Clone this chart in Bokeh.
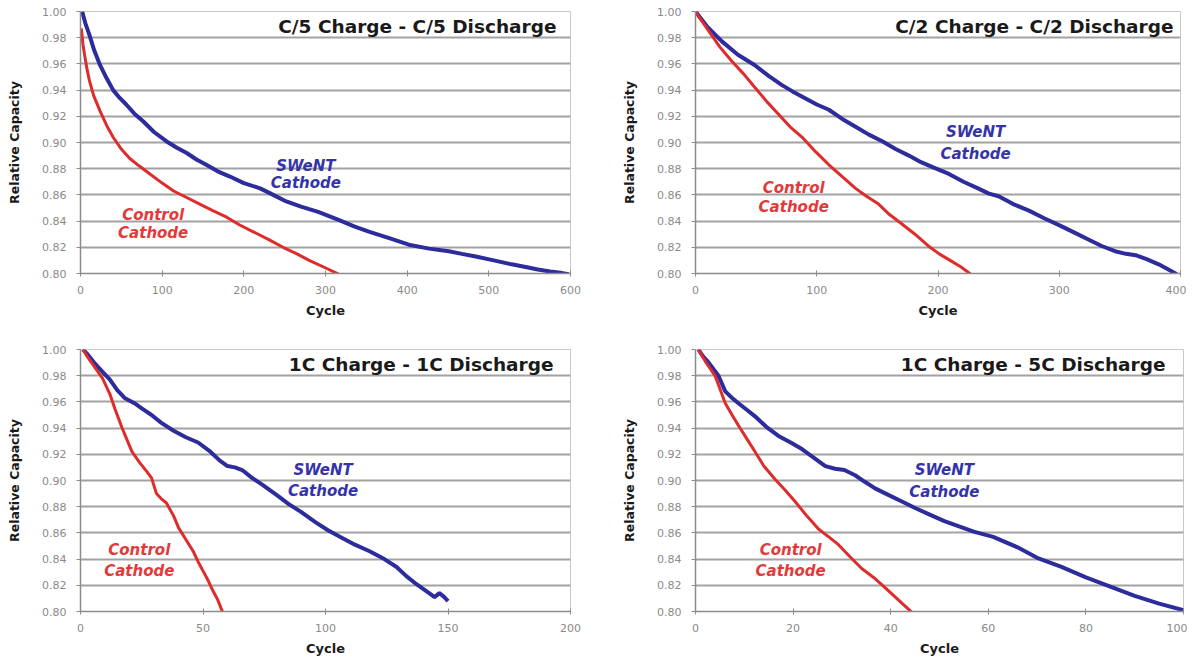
from bokeh.plotting import figure
from bokeh.layouts import column, row
from bokeh.models import Range1d, FixedTicker, PrintfTickFormatter, Label
from bokeh.embed import file_html
from bokeh.resources import INLINE

# ---------------- data ----------------
y_ticks = [0.80, 0.82, 0.84, 0.86, 0.88, 0.90, 0.92, 0.94, 0.96, 0.98, 1.00]
grid_levels = [0.82, 0.84, 0.86, 0.88, 0.90, 0.92, 0.94, 0.96, 0.98]

titles = ["C/5 Charge - C/5 Discharge", "C/2 Charge - C/2 Discharge",
          "1C Charge - 1C Discharge", "1C Charge - 5C Discharge"]

x_ticks_c5 = [0, 100, 200, 300, 400, 500, 600]
x_ticks_c2 = [0, 100, 200, 300, 400]
x_ticks_1c = [0, 50, 100, 150, 200]
x_ticks_5c = [0, 20, 40, 60, 80, 100]

# C/5 charge - C/5 discharge
c5_swent_cycle = [2, 6, 11, 17, 24, 32, 40, 48, 56, 66, 77, 90, 105, 118, 130, 142, 154, 168, 183,
                  200, 220, 236, 252, 270, 291, 316, 335, 353, 378, 402, 427, 451, 467, 484, 506,
                  528, 545, 560, 575, 590, 598]
c5_swent_cap = [1.000, 0.991, 0.982, 0.970, 0.959, 0.949, 0.940, 0.934, 0.929, 0.922, 0.916, 0.908,
                0.901, 0.896, 0.892, 0.887, 0.883, 0.878, 0.874, 0.869, 0.865, 0.860, 0.855, 0.851,
                0.847, 0.841, 0.836, 0.832, 0.827, 0.822, 0.819, 0.817, 0.815, 0.813, 0.810, 0.807,
                0.805, 0.803, 0.8015, 0.8003, 0.7995]
c5_control_cycle = [1, 3, 5, 8, 11, 16, 24, 32, 40, 50, 60, 72, 85, 100, 114, 130, 146, 162, 179,
                    195, 211, 230, 248, 265, 280, 301, 316]
c5_control_cap = [0.987, 0.975, 0.967, 0.956, 0.947, 0.936, 0.924, 0.913, 0.904, 0.895, 0.888,
                  0.882, 0.876, 0.869, 0.863, 0.858, 0.853, 0.848, 0.843, 0.837, 0.832, 0.826,
                  0.820, 0.815, 0.810, 0.804, 0.7995]

# C/2 charge - C/2 discharge
c2_swent_cycle = [0, 10, 22, 35, 49, 60, 71, 80, 90, 100, 110, 121, 132, 143, 154, 165, 176, 186,
                  196, 209, 221, 233, 242, 250, 262, 275, 288, 302, 313, 324, 335, 346, 355, 363,
                  372, 382, 390, 397]
c2_swent_cap = [1.000, 0.988, 0.977, 0.967, 0.959, 0.951, 0.944, 0.939, 0.934, 0.929, 0.925, 0.918,
                0.912, 0.906, 0.901, 0.895, 0.890, 0.885, 0.881, 0.876, 0.870, 0.865, 0.861, 0.859,
                0.853, 0.848, 0.842, 0.836, 0.831, 0.826, 0.821, 0.817, 0.815, 0.814, 0.811, 0.807,
                0.803, 0.7995]
c2_control_cycle = [0, 5, 11, 20, 30, 40, 49, 59, 69, 78, 88, 99, 110, 121, 132, 141, 151, 160, 170,
                    181, 192, 201, 210, 219, 227]
c2_control_cap = [1.000, 0.993, 0.985, 0.973, 0.962, 0.952, 0.942, 0.931, 0.921, 0.912, 0.904,
                  0.893, 0.883, 0.874, 0.865, 0.859, 0.853, 0.845, 0.838, 0.830, 0.821, 0.815,
                  0.810, 0.805, 0.7995]

# 1C charge - 1C discharge
c1_swent_cycle = [1, 3, 6, 9, 12, 15, 18, 22, 25, 29, 33, 38, 43, 48, 53, 57, 60, 63, 66, 70, 74,
                  80, 85, 90, 96, 101, 107, 112, 118, 124, 129, 133, 137, 140, 143, 144.5, 146.5,
                  148.5, 150]
c1_swent_cap = [1.000, 0.996, 0.989, 0.983, 0.977, 0.969, 0.963, 0.959, 0.955, 0.950, 0.944, 0.938,
                0.933, 0.929, 0.922, 0.915, 0.911, 0.910, 0.908, 0.902, 0.897, 0.889, 0.882, 0.876,
                0.868, 0.862, 0.856, 0.851, 0.846, 0.840, 0.834, 0.827, 0.821, 0.817, 0.813, 0.811,
                0.814, 0.811, 0.808]
c1_control_cycle = [1, 3, 6, 9, 12, 14, 17, 19, 21, 24, 27, 29, 31, 33, 35, 38, 40, 43, 46, 48, 50,
                    52, 54, 56, 58]
c1_control_cap = [1.000, 0.994, 0.986, 0.978, 0.966, 0.955, 0.940, 0.931, 0.922, 0.914, 0.907,
                  0.902, 0.890, 0.886, 0.883, 0.873, 0.864, 0.855, 0.846, 0.838, 0.831, 0.824,
                  0.816, 0.809, 0.7995]

# 1C charge - 5C discharge
c5d_swent_cycle = [0.6, 1.5, 2.7, 3.7, 4.7, 6.1, 7.5, 8.8, 10.5, 12.2, 14.5, 17, 19.5, 21.8, 24,
                   26.6, 28.6, 30.5, 32.7, 34.7, 36.8, 39.5, 42.3, 45, 48, 51, 54, 57, 61, 66, 70,
                   75, 80, 85, 90, 95, 100]
c5d_swent_cap = [1.000, 0.995, 0.990, 0.985, 0.980, 0.968, 0.963, 0.959, 0.954, 0.949, 0.941,
                 0.934, 0.929, 0.924, 0.918, 0.911, 0.909, 0.908, 0.904, 0.899, 0.894, 0.889,
                 0.884, 0.879, 0.874, 0.869, 0.865, 0.861, 0.857, 0.849, 0.841, 0.834, 0.826,
                 0.819, 0.812, 0.806, 0.801]
c5d_control_cycle = [0.6, 2, 4, 5, 6.1, 7.5, 8.8, 10.5, 12.2, 14, 16.3, 18.3, 20.4, 22.8, 25.2,
                     27.3, 29.3, 31.6, 34, 36.5, 38.9, 41.5, 44.3]
c5d_control_cap = [1.000, 0.991, 0.980, 0.970, 0.959, 0.950, 0.942, 0.932, 0.922, 0.911, 0.901,
                   0.893, 0.884, 0.873, 0.863, 0.857, 0.851, 0.842, 0.833, 0.826, 0.818, 0.809,
                   0.7995]

series_names = ["SWeNT", "Control"]
series_second_line = "Cathode"

# ---------------- style ----------------
BLUE = "#2c2c9c"
RED = "#de2b2b"
BLUE_TXT = "#3434a8"
RED_TXT = "#e23a3a"
FONT = "DejaVu Sans"


def make_panel(title, xticks, sw_x, sw_y, ct_x, ct_y, sw_pos, ct_pos, title_off,
               left, fw, right, top, fh, bottom):
    xmax = xticks[-1]
    p = figure(frame_width=fw, frame_height=fh, min_border_left=left, min_border_right=right,
               min_border_top=top, min_border_bottom=bottom, output_backend="svg",
               toolbar_location=None, x_range=Range1d(0, xmax), y_range=Range1d(0.80, 1.00),
               background_fill_color="white", border_fill_color="white")
    p.outline_line_color = "#c8c8c8"
    p.outline_line_width = 1
    p.xgrid.visible = False
    p.ygrid.ticker = FixedTicker(ticks=grid_levels)
    p.ygrid.grid_line_color = "#a2a2a2"
    p.ygrid.grid_line_width = 2

    p.xaxis.ticker = FixedTicker(ticks=xticks)
    p.yaxis.ticker = FixedTicker(ticks=y_ticks)
    p.yaxis.formatter = PrintfTickFormatter(format="%.2f")
    for ax in (p.xaxis, p.yaxis):
        ax.axis_line_color = "#8c8c8c"
        ax.axis_line_width = 1.5
        ax.major_tick_line_color = "#8c8c8c"
        ax.minor_tick_line_color = None
        ax.major_label_text_font = FONT
        ax.major_label_text_font_size = "11px"
        ax.major_label_text_color = "#8a8a8a"
        ax.axis_label_text_font = FONT
        ax.axis_label_text_font_style = "bold"
        ax.axis_label_text_color = "#1a1a1a"
    p.xaxis.major_tick_in = 3
    p.xaxis.major_tick_out = 3
    p.xaxis.major_label_standoff = 9
    p.xaxis.axis_label = "Cycle"
    p.xaxis.axis_label_text_font_size = "13px"
    p.xaxis.axis_label_standoff = 6
    p.yaxis.major_tick_in = 0
    p.yaxis.major_tick_out = 4
    p.yaxis.major_label_standoff = 10
    p.yaxis.axis_label = "Relative Capacity"
    p.yaxis.axis_label_text_font_size = "12.5px"
    p.yaxis.axis_label_standoff = 17

    p.line(sw_x, sw_y, line_width=4, color=BLUE)
    p.line(ct_x, ct_y, line_width=3, color=RED)

    p.add_layout(Label(x=xmax - title_off * xmax / fw, y=0.9885, text=title,
                       text_font=FONT, text_font_size="18.5px", text_font_style="bold",
                       text_color="#1a1a1a", text_align="right", text_baseline="middle"))
    for (name, pos, col) in ((series_names[0], sw_pos, BLUE_TXT), (series_names[1], ct_pos, RED_TXT)):
        px, py1, py2 = pos
        for txt, yy in ((name, py1), (series_second_line, py2)):
            p.add_layout(Label(x=px, y=yy, text=txt, text_font=FONT, text_font_size="15px",
                               text_font_style="bold italic", text_color=col,
                               text_align="center", text_baseline="middle"))
    return p


p1 = make_panel(titles[0], x_ticks_c5, c5_swent_cycle, c5_swent_cap, c5_control_cycle, c5_control_cap,
                (276, 0.882, 0.869), (89, 0.845, 0.831), 14,
                80, 490, 38, 11, 262, 62)
p2 = make_panel(titles[1], x_ticks_c2, c2_swent_cycle, c2_swent_cap, c2_control_cycle, c2_control_cap,
                (231, 0.908, 0.891), (81, 0.865, 0.851), 7,
                87, 485, 6, 11, 262, 62)
p3 = make_panel(titles[2], x_ticks_1c, c1_swent_cycle, c1_swent_cap, c1_control_cycle, c1_control_cap,
                (99, 0.908, 0.892), (24, 0.847, 0.831), 17,
                80, 490, 38, 14, 262, 38)
p4 = make_panel(titles[3], x_ticks_5c, c5d_swent_cycle, c5d_swent_cap, c5d_control_cycle, c5d_control_cap,
                (51, 0.908, 0.891), (19.5, 0.847, 0.831), 18,
                87, 488, 4, 14, 262, 38)

layout = column(row(p1, p2), row(p3, p4))
open("out.html", "w").write(file_html(layout, INLINE))
